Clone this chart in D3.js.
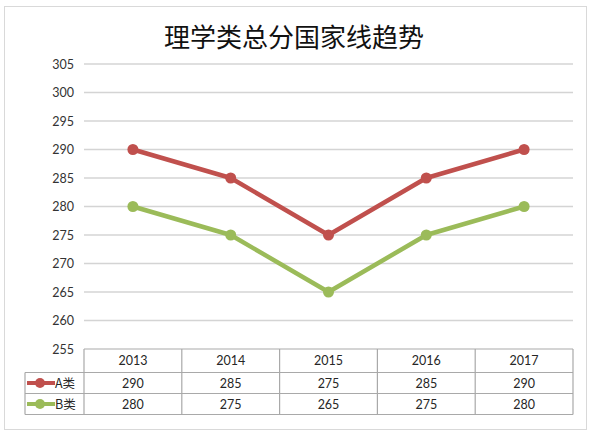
<!DOCTYPE html>
<html>
<head>
<meta charset="utf-8">
<script src="https://cdn.jsdelivr.net/npm/d3@7"></script>
<style>
  body { margin: 0; background: #fff; }
  svg text { font-family: Lato, "Noto Sans CJK SC", sans-serif; fill: #262626; }
</style>
</head>
<body>
<div id="chart"></div>
<script>
const years = ['2013', '2014', '2015', '2016', '2017'];
const seriesNames = ['A类', 'B类'];
const seriesA = [290, 285, 275, 285, 290];
const seriesB = [280, 275, 265, 275, 280];
const yTicks = [255, 260, 265, 270, 275, 280, 285, 290, 295, 300, 305];
const colors = ['#c0504d', '#9bbb59'];

const width = 604, height = 437;
const svg = d3.select('#chart').append('svg')
    .attr('width', width)
    .attr('height', height);

// outer frame
svg.append('rect')
    .attr('x', 4.5).attr('y', 6.5)
    .attr('width', 582).attr('height', 423)
    .attr('fill', '#fff')
    .attr('stroke', '#d9d9d9');

svg.append('text')
    .attr('x', 294).attr('y', 47)
    .attr('text-anchor', 'middle')
    .style('font-family', '"Noto Sans CJK SC", sans-serif')
    .style('font-size', '26px')
    .style('fill', '#111')
    .text('理学类总分国家线趋势');

const x = d3.scaleBand().domain(years).range([84, 573]);
const y = d3.scaleLinear().domain([255, 305]).range([349, 64]);

// gridlines
svg.append('g')
    .selectAll('line')
    .data(yTicks.filter(d => d > 255))
    .enter().append('line')
    .attr('x1', 84).attr('x2', 573)
    .attr('y1', d => y(d)).attr('y2', d => y(d))
    .attr('stroke', '#d4d4d4')
    .attr('stroke-width', 1.3);

// y axis labels
const yAxis = svg.append('g')
    .attr('transform', 'translate(84,0)')
    .call(d3.axisLeft(y).tickValues(yTicks).tickSize(0).tickPadding(10));
yAxis.select('.domain').remove();
yAxis.selectAll('text')
    .style('font-size', '12.5px')
    .style('font-family', 'Lato, sans-serif')
    .style('fill', '#333');

// lines and markers
const series = [seriesA, seriesB];
const line = d3.line()
    .x((d, i) => x(years[i]) + x.bandwidth() / 2)
    .y(d => y(d));

series.forEach((vals, s) => {
    svg.append('path')
        .datum(vals)
        .attr('d', line)
        .attr('fill', 'none')
        .attr('stroke', colors[s])
        .attr('stroke-width', 4.5)
        .attr('stroke-linejoin', 'round');
    svg.append('g')
        .selectAll('circle')
        .data(vals)
        .enter().append('circle')
        .attr('cx', (d, i) => x(years[i]) + x.bandwidth() / 2)
        .attr('cy', d => y(d))
        .attr('r', 5.5)
        .attr('fill', colors[s]);
});

// data table
const rowTop = [349, 372.5, 393.5];
const rowBottom = 414.5;
const tableColor = '#a9a9a9';
const tbl = svg.append('g')
    .attr('stroke', tableColor)
    .attr('stroke-width', 1.2)
    .attr('fill', 'none');

rowTop.concat([rowBottom]).forEach((ry, k) => {
    tbl.append('line')
        .attr('x1', k === 0 ? 84 : 25).attr('x2', 573)
        .attr('y1', ry).attr('y2', ry);
});
years.forEach(yr => {
    tbl.append('line')
        .attr('x1', x(yr)).attr('x2', x(yr))
        .attr('y1', rowTop[0]).attr('y2', rowBottom);
});
tbl.append('line')
    .attr('x1', 573).attr('x2', 573)
    .attr('y1', rowTop[0]).attr('y2', rowBottom);
tbl.append('line')
    .attr('x1', 25).attr('x2', 25)
    .attr('y1', rowTop[1]).attr('y2', rowBottom);

// header
svg.append('g')
    .selectAll('text')
    .data(years)
    .enter().append('text')
    .attr('x', d => x(d) + x.bandwidth() / 2)
    .attr('y', (rowTop[0] + rowTop[1]) / 2 + 4.5)
    .attr('text-anchor', 'middle')
    .style('font-size', '12.5px')
    .text(d => d);

// value rows with legend keys
series.forEach((vals, s) => {
    const top = rowTop[s + 1];
    const bottom = s === 0 ? rowTop[2] : rowBottom;
    const cy = (top + bottom) / 2;
    svg.append('g')
        .selectAll('text')
        .data(vals)
        .enter().append('text')
        .attr('x', (d, i) => x(years[i]) + x.bandwidth() / 2)
        .attr('y', cy + 4.5)
        .attr('text-anchor', 'middle')
        .style('font-size', '12.5px')
        .text(d => d);
    svg.append('line')
        .attr('x1', 27).attr('x2', 55)
        .attr('y1', cy).attr('y2', cy)
        .attr('stroke', colors[s])
        .attr('stroke-width', 4);
    svg.append('circle')
        .attr('cx', 40).attr('cy', cy).attr('r', 5)
        .attr('fill', colors[s]);
    svg.append('text')
        .attr('x', 55).attr('y', cy + 4.5)
        .style('font-size', '12.5px')
        .style('font-family', '"Noto Sans CJK SC", sans-serif')
        .text(seriesNames[s]);
});
</script>
</body>
</html>
